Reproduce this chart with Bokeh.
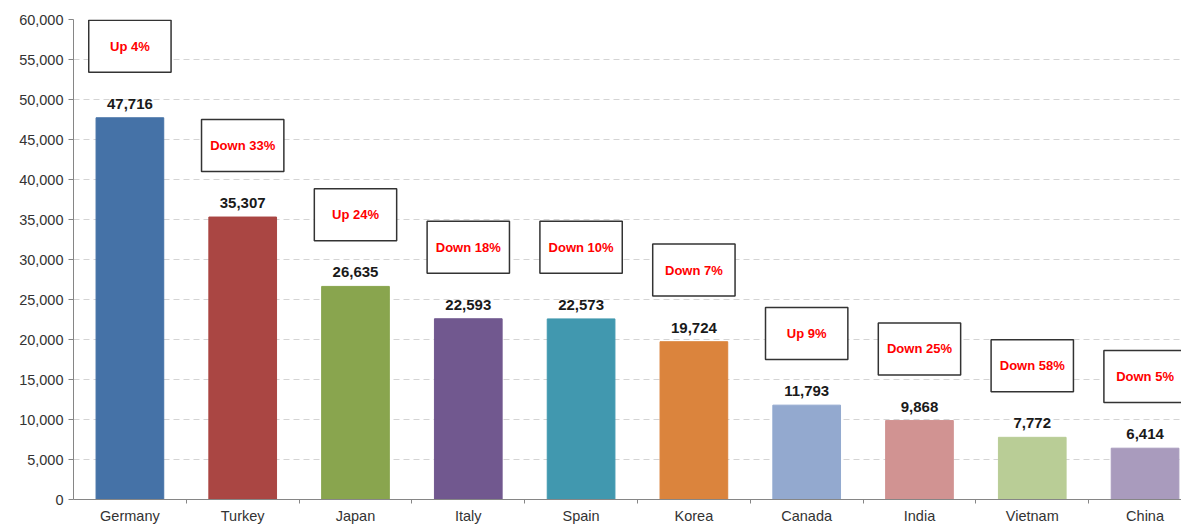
from bokeh.plotting import figure
from bokeh.models import ColumnDataSource, Range1d, FixedTicker, NumeralTickFormatter
from bokeh.embed import file_html
from bokeh.resources import INLINE
from bokeh.core.properties import value

countries = ["Germany", "Turkey", "Japan", "Italy", "Spain", "Korea", "Canada", "India", "Vietnam", "China"]
values = [47716, 35307, 26635, 22593, 22573, 19724, 11793, 9868, 7772, 6414]
changes = ["Up 4%", "Down 33%", "Up 24%", "Down 18%", "Down 10%", "Down 7%", "Up 9%", "Down 25%", "Down 58%", "Down 5%"]
colors = ["#4572A7", "#AA4643", "#89A54E", "#71588F", "#4198AF", "#DB843D", "#93A9CF", "#D19392", "#B9CD96", "#A99BBD"]

xs = list(range(len(countries)))
box_offset = 5700
box_h = 6500
src = ColumnDataSource(dict(
    x=xs, top=values, color=colors,
    label=[f"{v:,}" for v in values],
    change=changes,
    box_y=[v + box_offset + box_h / 2 for v in values],
))

FONT = "Liberation Sans"
p = figure(width=1181, height=526, output_backend="svg", toolbar_location=None,
           x_range=Range1d(-0.5, 9.323), y_range=Range1d(0, 60000),
           min_border_left=73, min_border_right=0, min_border_top=19, min_border_bottom=27)
p.outline_line_color = None
p.background_fill_color = "white"

p.vbar(x="x", top="top", bottom=0, width=0.6, color="color", source=src)

p.text(x="x", y="top", text="label", source=src, text_align="center", text_baseline="bottom",
       y_offset=-9, text_font=value(FONT), text_font_style="bold", text_font_size="15px",
       text_color="#1a1a1a")

p.rect(x="x", y="box_y", width=0.73, height=box_h, source=src, fill_color="white",
       line_color="#333333", line_width=1.5)
p.text(x="x", y="box_y", text="change", source=src, text_align="center", text_baseline="middle",
       text_font=value(FONT), text_font_style="bold", text_font_size="13px", text_color="#ff0000")

# axes
p.xaxis.ticker = FixedTicker(ticks=xs, minor_ticks=[i + 0.5 for i in xs])
p.xaxis.major_label_overrides = {i: c for i, c in enumerate(countries)}
p.xaxis.major_tick_out = 0
p.xaxis.major_tick_in = 0
p.xaxis.minor_tick_out = 4
p.xaxis.minor_tick_in = 0
p.xaxis.minor_tick_line_color = "#868686"
p.xaxis.axis_line_color = "#868686"
p.xaxis.major_label_text_font = FONT
p.xaxis.major_label_text_font_size = "14.5px"
p.xaxis.major_label_text_color = "#333333"
p.xaxis.major_label_standoff = 4

p.yaxis.ticker = FixedTicker(ticks=list(range(0, 60001, 5000)))
p.yaxis.formatter = NumeralTickFormatter(format="0,0")
p.yaxis.major_tick_out = 5
p.yaxis.major_tick_in = 0
p.yaxis.minor_tick_line_color = None
p.yaxis.axis_line_color = "#868686"
p.yaxis.major_tick_line_color = "#868686"
p.yaxis.major_label_text_font = FONT
p.yaxis.major_label_text_font_size = "14.5px"
p.yaxis.major_label_text_color = "#333333"
p.yaxis.major_label_standoff = 5

p.xgrid.grid_line_color = None
p.ygrid.grid_line_color = "#d4d4d4"
p.ygrid.grid_line_dash = "6 4"

open("out.html", "w").write(file_html(p, INLINE))
